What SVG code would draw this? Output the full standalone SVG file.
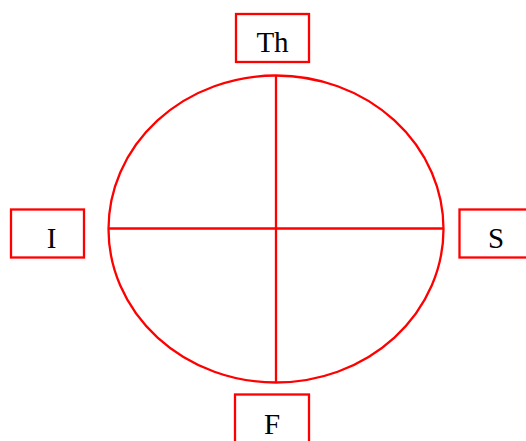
<svg xmlns="http://www.w3.org/2000/svg" width="526" height="441" viewBox="0 0 526 441">
<style>
.box{fill:#fff;stroke:#ff0000;stroke-width:2.3}
.ln{fill:none;stroke:#ff0000;stroke-width:2.3}
.lbl{font-family:"Liberation Serif","Times New Roman",serif;font-size:29px;fill:#000;text-anchor:middle}
</style>
<rect width="526" height="441" fill="#fff"/>
<g id="connectors">
<ellipse class="ln" cx="276" cy="229" rx="167.5" ry="153.5"/>
<line class="ln" x1="108.5" y1="228.5" x2="443.5" y2="228.5"/>
<line class="ln" x1="276" y1="75.5" x2="276" y2="382.5"/>
</g>
<g id="node-Th">
<rect class="box" x="236" y="14" width="73" height="48"/>
<text class="lbl" x="272.5" y="52">Th</text>
</g>
<g id="node-I">
<rect class="box" x="11" y="209.5" width="73" height="48"/>
<text class="lbl" x="51.5" y="248">I</text>
</g>
<g id="node-S">
<rect class="box" x="459.5" y="209.5" width="73" height="48"/>
<text class="lbl" x="496" y="248">S</text>
</g>
<g id="node-F">
<rect class="box" x="235" y="394.5" width="74" height="48"/>
<text class="lbl" x="272" y="434">F</text>
</g>
</svg>
